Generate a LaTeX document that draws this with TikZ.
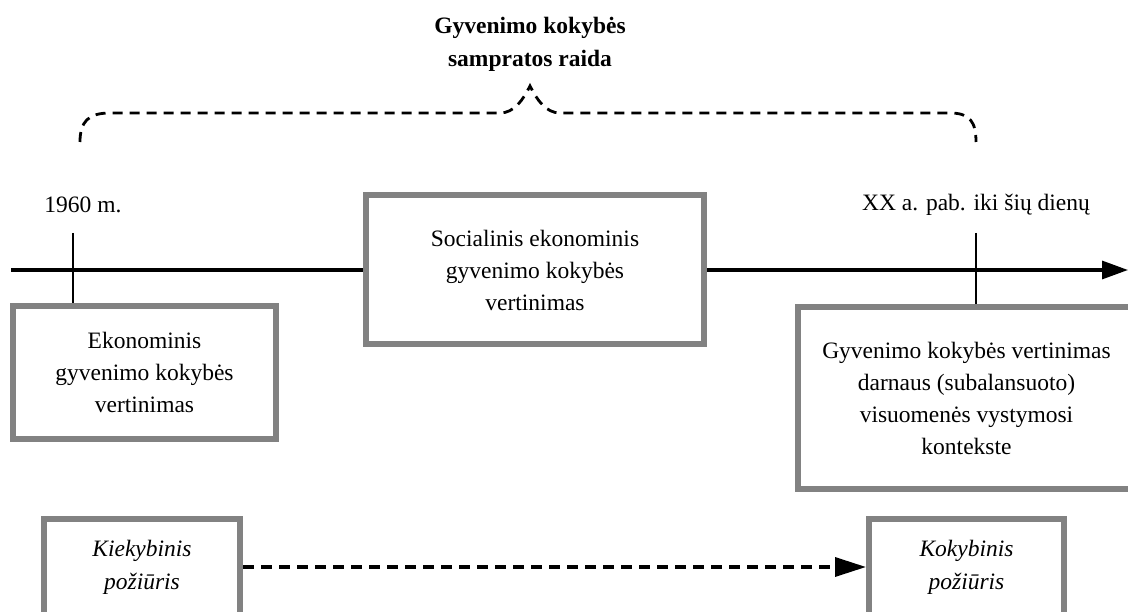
\documentclass[tikz,border=0pt]{standalone}
\usepackage{fontspec}
\setmainfont{Liberation Serif}
\usetikzlibrary{arrows.meta}
\definecolor{boxgray}{RGB}{130,130,130}
\begin{document}
\begin{tikzpicture}[x=1pt,y=-1pt,
  every node/.style={font=\fontsize{23.5}{32}\selectfont},
  gbox/.style={draw=boxgray, line width=6pt, fill=white, align=center, inner sep=0pt},
  plain/.style={align=center, inner sep=0pt},
  axis/.style={line width=3.2pt, draw=black},
  tickline/.style={line width=2.2pt, draw=black},
  bracedash/.style={line width=2.8pt, dash pattern=on 10pt off 7pt},
  arrdash/.style={line width=3.4pt, dash pattern=on 11pt off 7pt}]
\useasboundingbox (0,0) rectangle (1128,612);
\fill[white] (0,0) rectangle (1128,612);

% title
\node[plain, font=\fontsize{23.5}{33}\selectfont\bfseries] (title) at (530,44) {Gyvenimo kokybės\\sampratos raida};

% brace
\draw[bracedash] (80,142) .. controls (80,122) and (88,113) .. (110,113) -- (500,113)
  .. controls (514,113) and (523,100) .. (530,86)
  .. controls (537,100) and (546,113) .. (560,113) -- (950,113)
  .. controls (970,113) and (976,122) .. (976,142);

% labels
\node[plain] (y1960) at (83,205) {1960 m.};
\node[plain] (yxx) at (976,205) {XX a. pab. iki šių dienų};

% boxes
\node[gbox, minimum width=338pt, minimum height=149pt] (cb) at (535,270) {Socialinis ekonominis\\gyvenimo kokybės\\vertinimas};
\node[gbox, minimum width=263pt, minimum height=133pt] (lb) at (144.5,372.5) {Ekonominis\\gyvenimo kokybės\\vertinimas};
\node[gbox, minimum width=337pt, minimum height=182pt] (rb) at (966.5,398) {Gyvenimo kokybės vertinimas\\darnaus (subalansuoto)\\visuomenės vystymosi\\kontekste};
\node[gbox, minimum width=196pt, minimum height=96pt, font=\fontsize{23.5}{33}\selectfont\itshape] (kb) at (142,567) {Kiekybinis\\požiūris};
\node[gbox, minimum width=195pt, minimum height=96pt, font=\fontsize{23.5}{33}\selectfont\itshape] (qb) at (966.5,567) {Kokybinis\\požiūris};

% axis
\coordinate (axs) at (11,270);
\coordinate (axe) at (1128,270);
\draw[axis] (axs) -- (cb.west);
\draw[axis, -{Triangle[length=26pt,width=18pt]}] (cb.east) -- (axe);

% ticks
\coordinate (t1) at (73,233);
\coordinate (t2) at (976,233);
\draw[tickline] (t1) -- (t1 |- lb.north);
\draw[tickline] (t2) -- (t2 |- rb.north);

% dashed arrow
\draw[arrdash, -{Triangle[length=31pt,width=19pt]}] (kb.east) -- (qb.west);
\end{tikzpicture}
\end{document}
